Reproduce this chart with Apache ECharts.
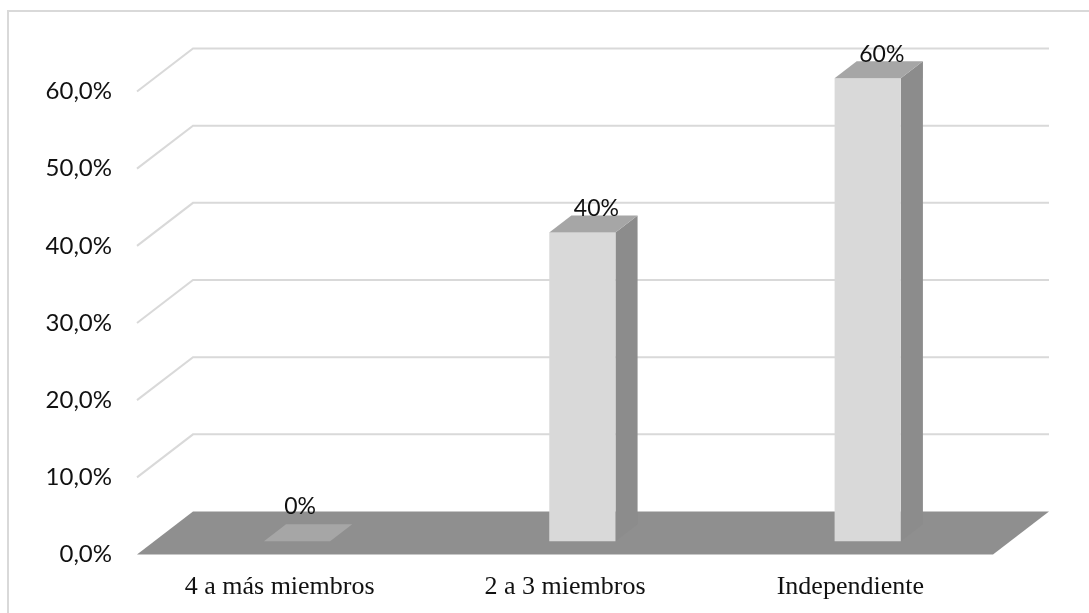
<!DOCTYPE html>
<html>
<head>
<meta charset="utf-8">
<script src="https://cdn.jsdelivr.net/npm/echarts@6/dist/echarts.min.js"></script>
<style>
html,body{margin:0;padding:0;background:#fff;}
#chart{width:1089px;height:613px;}
</style>
</head>
<body>
<div id="chart"></div>
<script>
const categories = ['4 a más miembros', '2 a 3 miembros', 'Independiente'];
const values = [0, 40, 60];
const valueLabels = ['0%', '40%', '60%'];
const yTicks = [0, 10, 20, 30, 40, 50, 60];

// projection of depth (pixels) for the pseudo-3D look
const DEPTH = [56, -43];
const BAR_FRONT = 0.31;
const BAR_BACK = 0.705;
const BAR_WIDTH_RATIO = 0.232;

const chart = echarts.init(document.getElementById('chart'));

function floorRender(params, api) {
  const cs = params.coordSys;
  const y0 = api.coord([0, 0])[1];
  const x0 = cs.x, x1 = cs.x + cs.width;
  return {
    type: 'polygon',
    shape: { points: [[x0, y0], [x1, y0], [x1 + DEPTH[0], y0 + DEPTH[1]], [x0 + DEPTH[0], y0 + DEPTH[1]]] },
    style: { fill: '#8f8f8f' }
  };
}

function gridRender(params, api) {
  const cs = params.coordSys;
  const v = api.value(1);
  const y = api.coord([0, v])[1];
  const x0 = cs.x, x1 = cs.x + cs.width;
  return {
    type: 'polyline',
    shape: { points: [[x0, y], [x0 + DEPTH[0], y + DEPTH[1]], [x1 + DEPTH[0], y + DEPTH[1]]] },
    style: { stroke: '#d9d9d9', lineWidth: 2, fill: null }
  };
}

function barRender(params, api) {
  const i = api.value(0);
  const v = api.value(1);
  const base = api.coord([i, 0]);
  const top = api.coord([i, v]);
  const hw = api.size([1, 0])[0] * BAR_WIDTH_RATIO / 2;
  const f = [DEPTH[0] * BAR_FRONT, DEPTH[1] * BAR_FRONT];
  const b = [DEPTH[0] * BAR_BACK, DEPTH[1] * BAR_BACK];
  const L = base[0] - hw, R = base[0] + hw;
  const yb = base[1], yt = top[1];
  const children = [];
  if (yb - yt > 0.5) {
    children.push({
      type: 'polygon',
      shape: { points: [[R + f[0], yt + f[1]], [R + b[0], yt + b[1]], [R + b[0], yb + b[1]], [R + f[0], yb + f[1]]] },
      style: { fill: '#8c8c8c' }
    });
    children.push({
      type: 'rect',
      shape: { x: L + f[0], y: yt + f[1], width: R - L, height: yb - yt },
      style: { fill: '#d9d9d9' }
    });
  }
  children.push({
    type: 'polygon',
    shape: { points: [[L + f[0], yt + f[1]], [R + f[0], yt + f[1]], [R + b[0], yt + b[1]], [L + b[0], yt + b[1]]] },
    style: { fill: '#a6a6a6' }
  });
  children.push({
    type: 'text',
    style: {
      x: (L + R) / 2 + (f[0] + b[0]) / 2 + (v === 0 ? -8 : 3),
      y: yt + b[1] + (v === 0 ? -6 : 5),
      text: valueLabels[params.dataIndex],
      fill: '#111111',
      font: '23px Lato',
      align: 'center',
      verticalAlign: 'bottom'
    }
  });
  return { type: 'group', children: children };
}

chart.setOption({
  animation: false,
  backgroundColor: '#ffffff',
  graphic: [{
    type: 'rect',
    shape: { x: 8, y: 11, width: 1200, height: 800 },
    style: { fill: null, stroke: '#d9d9d9', lineWidth: 2 },
    z: -10
  }],
  grid: { left: 137, right: 96, top: 91.5, bottom: 58.5, containLabel: false },
  xAxis: {
    type: 'category',
    data: categories,
    axisLine: { show: false },
    axisTick: { show: false },
    splitLine: { show: false },
    axisLabel: {
      margin: 20,
      fontFamily: 'Liberation Serif',
      fontSize: 26,
      color: '#111111'
    }
  },
  yAxis: {
    type: 'value',
    min: 0,
    max: 60,
    interval: 10,
    axisLine: { show: false },
    axisTick: { show: false },
    splitLine: { show: false },
    axisLabel: {
      margin: 25,
      fontFamily: 'Lato',
      fontSize: 24,
      color: '#111111',
      formatter: function (v) { return v.toFixed(1).replace('.', ',') + '%'; }
    }
  },
  series: [
    {
      type: 'custom',
      renderItem: floorRender,
      data: [[0, 0]],
      silent: true
    },
    {
      type: 'custom',
      renderItem: gridRender,
      data: yTicks.filter(function (t) { return t > 0; }).map(function (t) { return [0, t]; }),
      silent: true
    },
    {
      type: 'custom',
      renderItem: barRender,
      data: values.map(function (v, i) { return [i, v]; })
    }
  ]
});
</script>
</body>
</html>
